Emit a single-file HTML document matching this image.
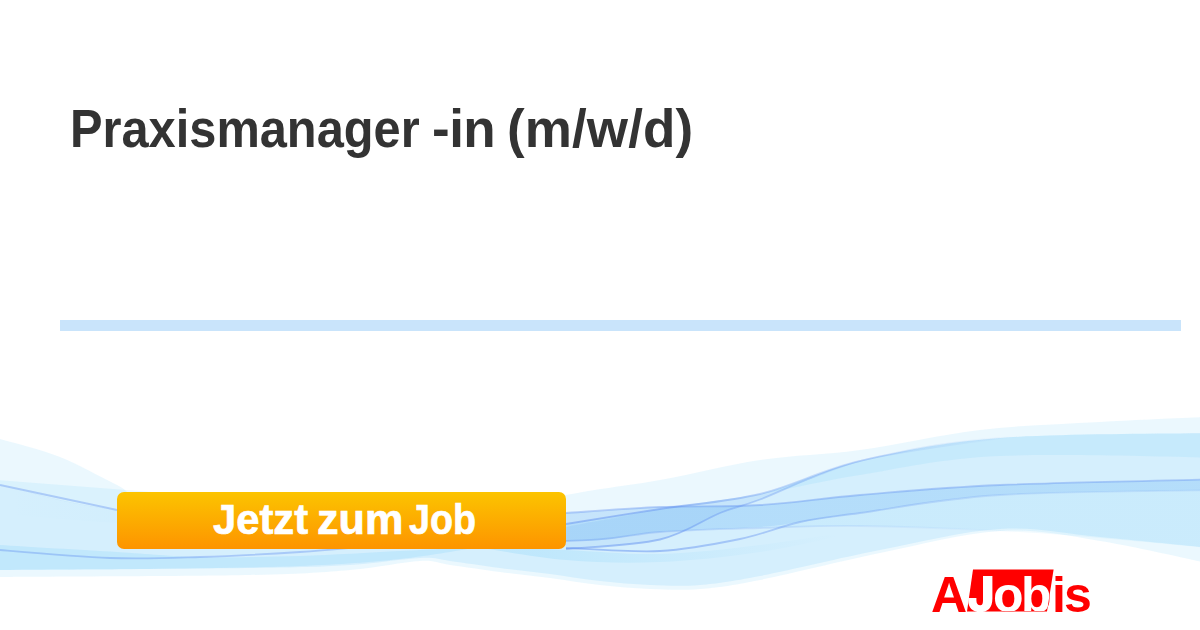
<!DOCTYPE html>
<html><head><meta charset="utf-8">
<style>
html,body{margin:0;padding:0;}
body{width:1200px;height:630px;position:relative;overflow:hidden;background:#fff;font-family:"Liberation Sans",sans-serif;}
.title{position:absolute;top:99px;font-size:53px;font-weight:bold;color:#333;white-space:nowrap;line-height:60px;}
.bar{position:absolute;left:60px;top:320px;width:1121px;height:11px;background:#c9e4fb;}
svg.waves{position:absolute;left:0;top:0;}
.btn{position:absolute;left:117px;top:492px;width:449px;height:57px;border-radius:7px;background:linear-gradient(#fcc400,#fd9400);}
.btn span{position:absolute;top:-1px;font-size:42px;font-weight:bold;color:#fff;line-height:57px;white-space:nowrap;-webkit-text-stroke:0.7px #fff;transform-origin:0 0;}
.logo{position:absolute;left:0;top:0;}
</style></head>
<body>
<div class="title" style="left:70px;transform:scaleX(0.92);transform-origin:0 0">Praxismanager</div><div class="title" style="left:432px;letter-spacing:-0.5px">-in</div><div class="title" style="left:507px;letter-spacing:0.1px">(m/w/d)</div>
<div class="bar"></div>
<svg class="waves" width="1200" height="630" viewBox="0 0 1200 630">
<defs><linearGradient id="gCE" gradientUnits="userSpaceOnUse" x1="0" y1="0" x2="1200" y2="0"><stop offset="0" stop-color="rgb(60,185,245)" stop-opacity="0.0"/><stop offset="0.45" stop-color="rgb(60,185,245)" stop-opacity="0.07"/><stop offset="1" stop-color="rgb(60,185,245)" stop-opacity="0.07"/></linearGradient><linearGradient id="gLL" gradientUnits="userSpaceOnUse" x1="0" y1="0" x2="1200" y2="0"><stop offset="0" stop-color="rgb(60,185,245)" stop-opacity="0.14"/><stop offset="0.45" stop-color="rgb(60,185,245)" stop-opacity="0.14"/><stop offset="0.7" stop-color="rgb(60,185,245)" stop-opacity="0"/></linearGradient><linearGradient id="gE" gradientUnits="userSpaceOnUse" x1="0" y1="0" x2="1200" y2="0"><stop offset="0.45" stop-color="rgb(100,145,240)" stop-opacity="0.35"/><stop offset="0.85" stop-color="rgb(100,145,240)" stop-opacity="0"/></linearGradient><linearGradient id="gA" gradientUnits="userSpaceOnUse" x1="0" y1="0" x2="1200" y2="0"><stop offset="0.55" stop-color="rgb(100,145,240)" stop-opacity="0.5"/><stop offset="0.85" stop-color="rgb(100,145,240)" stop-opacity="0"/></linearGradient><linearGradient id="gD" gradientUnits="userSpaceOnUse" x1="0" y1="0" x2="1200" y2="0"><stop offset="0.55" stop-color="rgb(100,145,240)" stop-opacity="0.5"/><stop offset="0.9" stop-color="rgb(100,145,240)" stop-opacity="0.12"/></linearGradient></defs>
<path d="M-30.0,432.0 C-25.0,433.2 -15.0,434.8 0.0,439.0 C15.0,443.2 40.5,449.3 60.0,457.0 C79.5,464.7 97.0,475.3 117.0,485.0 C137.0,494.7 129.5,508.3 180.0,515.0 C230.5,521.7 355.7,528.3 420.0,525.0 C484.3,521.7 526.0,502.5 566.0,495.0 C606.0,487.5 627.7,485.8 660.0,480.0 C692.3,474.2 726.7,465.0 760.0,460.0 C793.3,455.0 823.3,455.0 860.0,450.0 C896.7,445.0 940.0,434.7 980.0,430.0 C1020.0,425.3 1058.3,424.3 1100.0,422.0 C1141.7,419.7 1208.3,417.0 1230.0,416.0 L1230.0,568.0 C1208.3,563.5 1138.3,547.2 1100.0,541.0 C1061.7,534.8 1036.7,529.0 1000.0,531.0 C963.3,533.0 920.0,544.8 880.0,553.0 C840.0,561.2 790.0,574.0 760.0,580.0 C730.0,586.0 718.3,587.5 700.0,589.0 C681.7,590.5 666.7,589.7 650.0,589.0 C633.3,588.3 616.7,586.8 600.0,585.0 C583.3,583.2 566.7,580.2 550.0,578.0 C533.3,575.8 516.7,574.2 500.0,572.0 C483.3,569.8 463.3,566.8 450.0,565.0 C436.7,563.2 436.7,560.2 420.0,561.0 C403.3,561.8 378.3,567.7 350.0,570.0 C321.7,572.3 308.3,573.8 250.0,575.0 C191.7,576.2 46.7,576.5 0.0,577.0 C-46.7,577.5 -25.0,577.8 -30.0,578.0 Z" fill="rgb(60,185,245)" fill-opacity="0.10"/>
<path d="M-30.0,478.0 C-25.0,479.2 -24.5,479.7 0.0,485.0 C24.5,490.3 60.3,503.3 117.0,510.0 C173.7,516.7 265.2,522.7 340.0,525.0 C414.8,527.3 512.7,526.7 566.0,524.0 C619.3,521.3 627.7,514.0 660.0,509.0 C692.3,504.0 726.7,502.0 760.0,494.0 C793.3,486.0 820.0,470.3 860.0,461.0 C900.0,451.7 938.3,442.7 1000.0,438.0 C1061.7,433.3 1191.7,433.8 1230.0,433.0 L1230.0,550.0 C1208.3,547.8 1138.3,540.5 1100.0,537.0 C1061.7,533.5 1036.7,526.8 1000.0,529.0 C963.3,531.2 920.0,542.2 880.0,550.0 C840.0,557.8 790.0,570.2 760.0,576.0 C730.0,581.8 718.3,583.5 700.0,585.0 C681.7,586.5 666.7,585.7 650.0,585.0 C633.3,584.3 616.7,582.8 600.0,581.0 C583.3,579.2 566.7,576.2 550.0,574.0 C533.3,571.8 516.7,570.2 500.0,568.0 C483.3,565.8 463.3,562.7 450.0,561.0 C436.7,559.3 436.7,557.3 420.0,558.0 C403.3,558.7 378.3,563.3 350.0,565.0 C321.7,566.7 308.3,567.2 250.0,568.0 C191.7,568.8 46.7,569.5 0.0,570.0 C-46.7,570.5 -25.0,570.8 -30.0,571.0 Z" fill="rgb(60,185,245)" fill-opacity="0.12"/>
<path d="M-30.0,478.0 C-25.0,479.2 -24.5,479.7 0.0,485.0 C24.5,490.3 60.3,503.3 117.0,510.0 C173.7,516.7 265.2,524.5 340.0,525.0 C414.8,525.5 512.7,516.0 566.0,513.0 C619.3,510.0 627.7,508.3 660.0,507.0 C692.3,505.7 726.7,507.0 760.0,505.0 C793.3,503.0 820.0,498.3 860.0,495.0 C900.0,491.7 938.3,487.7 1000.0,485.0 C1061.7,482.3 1191.7,480.0 1230.0,479.0 L1230.0,550.0 C1208.3,548.0 1138.3,541.2 1100.0,538.0 C1061.7,534.8 1040.0,533.0 1000.0,531.0 C960.0,529.0 900.0,526.5 860.0,526.0 C820.0,525.5 793.3,527.0 760.0,528.0 C726.7,529.0 692.3,529.8 660.0,532.0 C627.7,534.2 619.3,540.5 566.0,541.0 C512.7,541.5 414.8,538.0 340.0,535.0 C265.2,532.0 173.7,526.5 117.0,523.0 C60.3,519.5 24.5,515.8 0.0,514.0 C-24.5,512.2 -25.0,512.3 -30.0,512.0 Z" fill="url(#gCE)" fill-opacity="1.00"/>
<path d="M-30.0,478.0 C-25.0,479.2 -24.5,479.7 0.0,485.0 C24.5,490.3 60.3,503.3 117.0,510.0 C173.7,516.7 265.2,524.5 340.0,525.0 C414.8,525.5 512.7,516.0 566.0,513.0 C619.3,510.0 627.7,508.3 660.0,507.0 C692.3,505.7 726.7,507.0 760.0,505.0 C793.3,503.0 820.0,498.3 860.0,495.0 C900.0,491.7 938.3,487.7 1000.0,485.0 C1061.7,482.3 1191.7,480.0 1230.0,479.0 L1230.0,490.0 C1191.7,490.8 1061.7,491.2 1000.0,495.0 C938.3,498.8 893.3,508.5 860.0,513.0 C826.7,517.5 816.7,519.7 800.0,522.0 C783.3,524.3 783.3,525.3 760.0,527.0 C736.7,528.7 692.3,529.7 660.0,532.0 C627.7,534.3 619.3,541.7 566.0,541.0 C512.7,540.3 414.8,533.2 340.0,528.0 C265.2,522.8 173.7,517.2 117.0,510.0 C60.3,502.8 24.5,490.3 0.0,485.0 C-24.5,479.7 -25.0,479.2 -30.0,478.0 Z" fill="rgb(70,150,240)" fill-opacity="0.16"/>
<path d="M-30.0,478.0 C-25.0,479.2 -24.5,479.7 0.0,485.0 C24.5,490.3 60.3,503.3 117.0,510.0 C173.7,516.7 265.2,522.7 340.0,525.0 C414.8,527.3 512.7,526.7 566.0,524.0 C619.3,521.3 627.7,514.0 660.0,509.0 C692.3,504.0 726.7,502.0 760.0,494.0 C793.3,486.0 820.0,470.3 860.0,461.0 C900.0,451.7 938.3,442.7 1000.0,438.0 C1061.7,433.3 1191.7,433.8 1230.0,433.0 L1230.0,458.0 C1191.7,457.7 1061.7,453.2 1000.0,456.0 C938.3,458.8 900.0,468.7 860.0,475.0 C820.0,481.3 793.3,488.3 760.0,494.0 C726.7,499.7 692.3,504.0 660.0,509.0 C627.7,514.0 581.7,521.5 566.0,524.0 Z" fill="rgb(60,185,245)" fill-opacity="0.09"/>
<path d="M566.0,527.0 C581.7,524.0 627.7,514.5 660.0,509.0 C692.3,503.5 736.7,498.5 760.0,494.0 C783.3,489.5 783.3,487.5 800.0,482.0 C816.7,476.5 850.0,464.5 860.0,461.0 L860.0,461.0 C850.0,464.7 816.7,476.6 800.0,483.0 C783.3,489.4 773.3,494.5 760.0,499.5 C746.7,504.5 736.7,506.3 720.0,513.0 C703.3,519.7 685.7,533.5 660.0,539.5 C634.3,545.5 581.7,547.4 566.0,549.0 Z" fill="rgb(70,150,240)" fill-opacity="0.10"/>
<path d="M-30.0,542.0 C-25.0,542.5 -24.5,543.3 0.0,545.0 C24.5,546.7 83.7,550.0 117.0,552.0 C150.3,554.0 169.5,556.3 200.0,557.0 C230.5,557.7 266.7,557.0 300.0,556.0 C333.3,555.0 370.0,552.5 400.0,551.0 C430.0,549.5 466.7,547.7 480.0,547.0 L480.0,547.0 C466.7,549.0 430.0,555.8 400.0,559.0 C370.0,562.2 341.7,564.3 300.0,566.0 C258.3,567.7 200.0,568.3 150.0,569.0 C100.0,569.7 30.0,569.7 0.0,570.0 C-30.0,570.3 -25.0,570.8 -30.0,571.0 Z" fill="rgb(60,185,245)" fill-opacity="0.13"/>
<path d="M470.0,546.0 C486.0,546.7 534.3,548.7 566.0,550.0 C597.7,551.3 627.7,554.8 660.0,554.0 C692.3,553.2 726.7,549.0 760.0,545.0 C793.3,541.0 843.3,532.5 860.0,530.0 L860.0,532.0 C843.3,535.3 793.3,547.0 760.0,552.0 C726.7,557.0 692.3,560.7 660.0,562.0 C627.7,563.3 597.7,562.7 566.0,560.0 C534.3,557.3 486.0,548.3 470.0,546.0 Z" fill="url(#gLL)" fill-opacity="1.00"/>
<path d="M566.0,524.0 C581.7,521.5 627.7,514.0 660.0,509.0 C692.3,504.0 726.7,502.0 760.0,494.0 C793.3,486.0 820.0,470.3 860.0,461.0 C900.0,451.7 938.3,442.7 1000.0,438.0 C1061.7,433.3 1191.7,433.8 1230.0,433.0" fill="none" stroke="url(#gA)" stroke-opacity="1.00" stroke-width="1.8"/>
<path d="M566.0,513.0 C581.7,512.0 627.7,508.3 660.0,507.0 C692.3,505.7 726.7,507.0 760.0,505.0 C793.3,503.0 820.0,498.3 860.0,495.0 C900.0,491.7 938.3,487.7 1000.0,485.0 C1061.7,482.3 1191.7,480.0 1230.0,479.0" fill="none" stroke="rgb(100,145,240)" stroke-opacity="0.40" stroke-width="1.8"/>
<path d="M566.0,548.0 C581.7,548.5 631.0,552.5 660.0,551.0 C689.0,549.5 716.7,543.8 740.0,539.0 C763.3,534.2 780.0,526.3 800.0,522.0 C820.0,517.7 826.7,517.5 860.0,513.0 C893.3,508.5 938.3,498.8 1000.0,495.0 C1061.7,491.2 1191.7,490.8 1230.0,490.0" fill="none" stroke="url(#gD)" stroke-opacity="1.00" stroke-width="1.8"/>
<path d="M566.0,549.0 C581.7,547.4 634.3,545.5 660.0,539.5 C685.7,533.5 703.3,519.7 720.0,513.0 C736.7,506.3 736.7,508.2 760.0,499.5 C783.3,490.8 820.0,471.2 860.0,461.0 C900.0,450.8 976.7,441.8 1000.0,438.0" fill="none" stroke="url(#gA)" stroke-opacity="1.00" stroke-width="1.8"/>
<path d="M340.0,535.0 C377.7,536.0 512.7,541.5 566.0,541.0 C619.3,540.5 627.7,534.2 660.0,532.0 C692.3,529.8 726.7,529.0 760.0,528.0 C793.3,527.0 820.0,525.5 860.0,526.0 C900.0,526.5 960.0,529.0 1000.0,531.0 C1040.0,533.0 1083.3,536.8 1100.0,538.0" fill="none" stroke="url(#gE)" stroke-opacity="1.00" stroke-width="1.8"/>
<path d="M0.0,485.0 C19.5,489.2 97.5,505.8 117.0,510.0" fill="none" stroke="rgb(100,145,240)" stroke-opacity="0.40" stroke-width="1.8"/>
<path d="M-30.0,546.0 C-25.0,546.7 -23.3,548.0 0.0,550.0 C23.3,552.0 76.7,556.8 110.0,558.0 C143.3,559.2 168.3,558.0 200.0,557.0 C231.7,556.0 273.3,553.7 300.0,552.0 C326.7,550.3 350.0,547.8 360.0,547.0" fill="none" stroke="rgb(100,145,240)" stroke-opacity="0.40" stroke-width="1.8"/>
</svg>
<div class="btn"><span style="left:96px;transform:scaleX(0.994)">Jetzt</span><span style="left:200px;transform:scaleX(1.028)">zum</span><span style="left:292px;transform:scaleX(0.897)">Job</span></div>
<svg class="logo" width="1200" height="630">
  <defs><clipPath id="bx"><polygon points="973,569.5 1053.6,569.5 1047,611.5 967,611.5"/></clipPath></defs>
  <text y="612" font-family="Liberation Sans" font-weight="bold" font-size="50" fill="#f00"><tspan x="931">A</tspan><tspan x="993">o</tspan><tspan x="1021">b</tspan><tspan x="1052">i</tspan><tspan x="1064">s</tspan></text>
  <polygon points="973,569.5 1053.6,569.5 1047,611.5 967,611.5" fill="#f00"/>
  <text y="612" font-family="Liberation Sans" font-weight="bold" font-size="50" fill="#fff" clip-path="url(#bx)"><tspan x="931">A</tspan><tspan x="993">o</tspan><tspan x="1021">b</tspan><tspan x="1052">i</tspan><tspan x="1064">s</tspan></text>
  <path d="M983,576 H992.4 V598.5 C992.4,608 987.5,612.2 980.2,612.2 C972.5,612.2 968.2,607.5 968.2,600.5 V598 H976.4 V600.5 C976.4,603.5 977.8,605.2 980.2,605.2 C982.5,605.2 983,603.5 983,600 Z" fill="#fff"/>
</svg>
</body></html>
